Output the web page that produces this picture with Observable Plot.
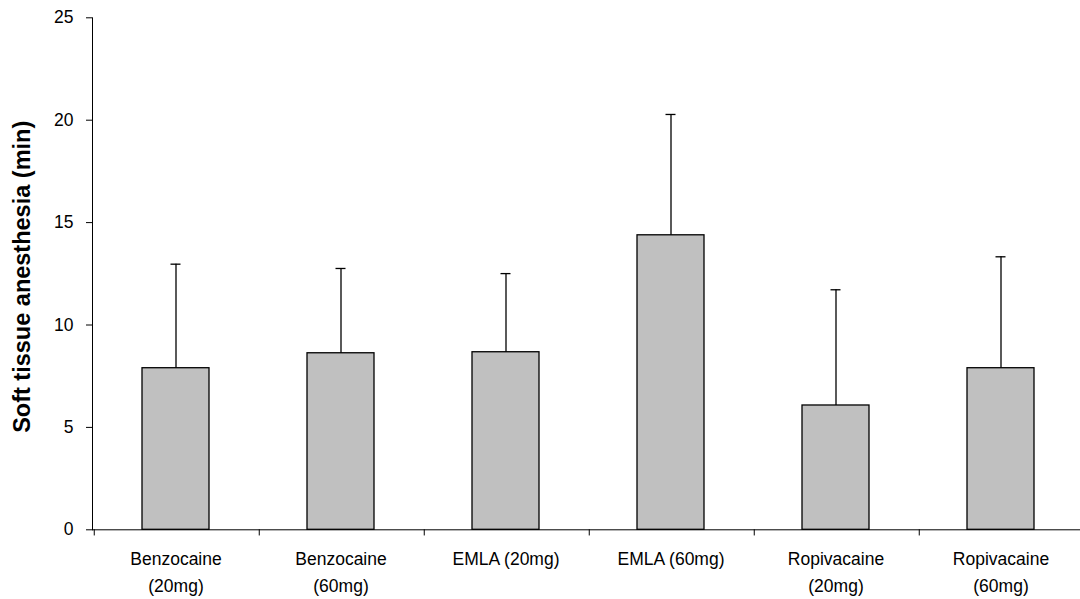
<!DOCTYPE html>
<html>
<head>
<meta charset="utf-8">
<script src="https://cdn.jsdelivr.net/npm/d3@7"></script>
<script src="https://cdn.jsdelivr.net/npm/@observablehq/plot@0.6"></script>
<style>
  html, body { margin: 0; padding: 0; background: #fff; overflow: hidden; }
  #chart svg { display: block; }
</style>
</head>
<body>
<div id="chart"></div>
<script>
// Data
const categories = ["Benzocaine (20mg)", "Benzocaine (60mg)", "EMLA (20mg)", "EMLA (60mg)", "Ropivacaine (20mg)", "Ropivacaine (60mg)"];
const tickLabels = ["Benzocaine\n(20mg)", "Benzocaine\n(60mg)", "EMLA (20mg)", "EMLA (60mg)", "Ropivacaine\n(20mg)", "Ropivacaine\n(60mg)"];
const means = [7.89, 8.62, 8.67, 14.38, 6.07, 7.89];
const sds = [5.08, 4.14, 3.84, 5.90, 5.65, 5.44];
const yTicks = [0, 5, 10, 15, 20, 25];
const yTitle = "Soft tissue anesthesia (min)";

const data = categories.map((c, i) => ({label: c, display: tickLabels[i], mean: means[i], upper: means[i] + sds[i]}));

const W = 1080, H = 599;
const xRange = [91, 1084];
const step = (xRange[1] - xRange[0]) / categories.length;
const ink = "#000";

const hasAxisMarks = typeof Plot.axisY === "function";

const marks = [];
if (hasAxisMarks) {
  marks.push(Plot.axisY(yTicks, {tickSize: 6, tickFormat: () => "", label: null, stroke: ink}));
  marks.push(Plot.frame({anchor: "left", stroke: ink}));
}
marks.push(
  Plot.text(yTicks, {y: d => d, text: d => String(d), frameAnchor: "left", dx: -19, textAnchor: "end", lineAnchor: "middle", fontSize: 17.5, fill: ink}),
  Plot.ruleY([0], {stroke: ink, strokeWidth: 1}),
  Plot.ruleX(data, {x: "label", y1: 0, y2: -0.3, dx: -step / 2 + 1, stroke: ink, strokeWidth: 1}),
  Plot.barY(data, {x: "label", y: "mean", fill: "#c0c0c0", stroke: ink, strokeWidth: 1.3}),
  Plot.ruleX(data, {x: "label", y1: "mean", y2: "upper", stroke: ink, strokeWidth: 1.3}),
  Plot.tickY(data, {x: "label", y: "upper", insetLeft: 28.5, insetRight: 28.5, stroke: ink, strokeWidth: 1.3}),
  Plot.text(data, {x: "label", y: 0, text: "display", dy: 16, lineAnchor: "top", textAnchor: "middle", fontSize: 17.5, lineHeight: 1.55, fill: ink}),
  Plot.text([yTitle], {frameAnchor: "left", text: d => d, rotate: -90, dx: -70, dy: 3, fontSize: 23.5, fontWeight: "bold", lineAnchor: "middle", textAnchor: "middle", fill: ink})
);

const yOpts = {domain: [0, 25], label: null};
if (!hasAxisMarks) Object.assign(yOpts, {ticks: yTicks, tickSize: 6, tickFormat: () => "", line: true});

const chart = Plot.plot({
  width: W,
  height: H,
  marginLeft: 92,
  marginRight: 0,
  marginTop: 17.3,
  marginBottom: 69.7,
  style: {fontFamily: "'Liberation Sans', Arial, sans-serif", fontSize: "17.5px", color: "#000", background: "#fff", overflow: "visible"},
  x: {domain: categories, range: xRange, paddingInner: 0.595, paddingOuter: 0.2975, axis: null},
  y: yOpts,
  marks
});
document.getElementById("chart").appendChild(chart);
</script>
</body>
</html>
